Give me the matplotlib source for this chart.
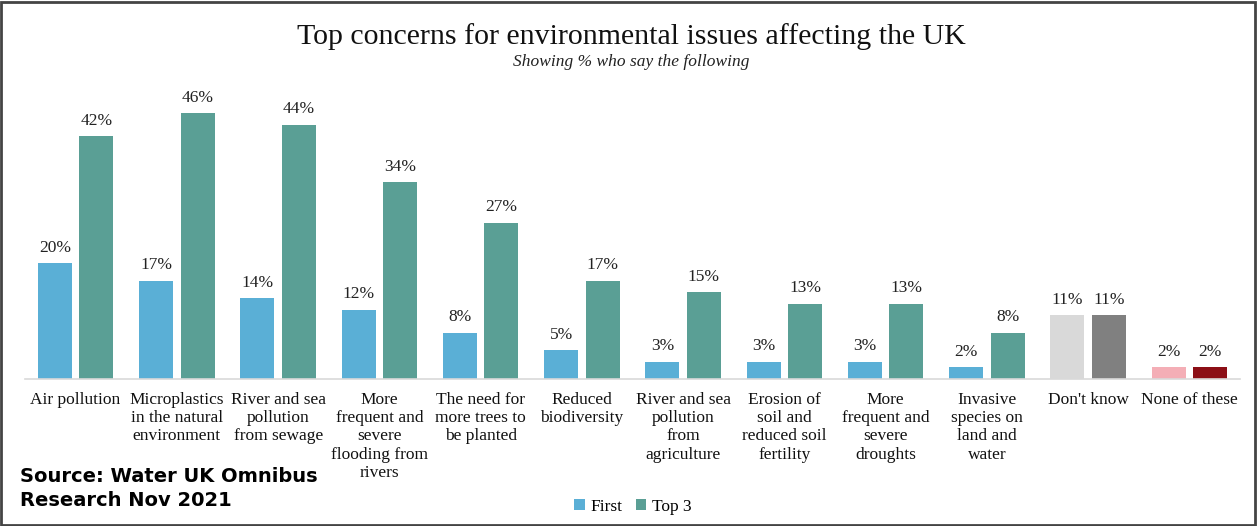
import matplotlib.pyplot as plt
import numpy as np
from matplotlib.patches import Rectangle

categories = [
    "Air pollution",
    "Microplastics\nin the natural\nenvironment",
    "River and sea\npollution\nfrom sewage",
    "More\nfrequent and\nsevere\nflooding from\nrivers",
    "The need for\nmore trees to\nbe planted",
    "Reduced\nbiodiversity",
    "River and sea\npollution\nfrom\nagriculture",
    "Erosion of\nsoil and\nreduced soil\nfertility",
    "More\nfrequent and\nsevere\ndroughts",
    "Invasive\nspecies on\nland and\nwater",
    "Don't know",
    "None of these",
]
first = [20, 17, 14, 12, 8, 5, 3, 3, 3, 2, 11, 2]
top3 = [42, 46, 44, 34, 27, 17, 15, 13, 13, 8, 11, 2]

blue = "#5aafd6"
teal = "#5a9f95"
first_colors = [blue] * 10 + ["#d9d9d9", "#f4aeb6"]
top3_colors = [teal] * 10 + ["#808080", "#8c0f16"]

serif = "Liberation Serif"

fig = plt.figure(figsize=(12.58, 5.26), dpi=100)
ax = fig.add_axes([25 / 1258, 147 / 526, 1215 / 1258, 289 / 526])

x = np.arange(len(categories))
w = 0.335
off = 0.205
b1 = ax.bar(x - off, first, w, color=first_colors, label="First")
b2 = ax.bar(x + off, top3, w, color=top3_colors, label="Top 3")

for bars, vals in [(b1, first), (b2, top3)]:
    for rect, v in zip(bars, vals):
        ax.text(rect.get_x() + rect.get_width() / 2, v + 1.3, f"{v}%",
                ha="center", va="bottom", fontsize=12.5, family=serif,
                color="#222222")

ax.set_xlim(-0.5, len(categories) - 0.5)
ax.set_ylim(0, 50)
ax.set_xticks(x)
ax.set_xticklabels(categories, family=serif, fontsize=12.5, color="#111111",
                   linespacing=1.2, va="top")
ax.tick_params(axis="x", length=0, pad=9)
ax.set_yticks([])
for s in ["top", "left", "right"]:
    ax.spines[s].set_visible(False)
ax.spines["bottom"].set_color("#d9d9d9")
ax.spines["bottom"].set_linewidth(1.2)

fig.text(0.5015, (526 - 37) / 526, "Top concerns for environmental issues affecting the UK",
         ha="center", va="center", fontsize=21.5, family=serif, color="#111111")
fig.text(0.5015, (526 - 62) / 526, "Showing % who say the following",
         ha="center", va="center", fontsize=12.5, family=serif, style="italic",
         color="#222222")

fig.text(20 / 1258, (526 - 467) / 526, "Source: Water UK Omnibus\nResearch Nov 2021",
         ha="left", va="top", fontsize=14, fontweight="bold", family="DejaVu Sans",
         linespacing=1.35, color="black")

leg = fig.legend(handles=[b1[0], b2[0]], labels=["First", "Top 3"], loc="center",
                 bbox_to_anchor=(0.503, (526 - 507) / 526), ncol=2, frameon=False,
                 handlelength=0.6, handleheight=0.6, handletextpad=0.3,
                 columnspacing=0.8, prop={"family": serif, "size": 12.5})

fig.patches.append(Rectangle((0.001, 0.002), 0.997, 0.995, transform=fig.transFigure,
                             fill=False, edgecolor="#444444", linewidth=2))

fig.savefig("out.png", dpi=100)
